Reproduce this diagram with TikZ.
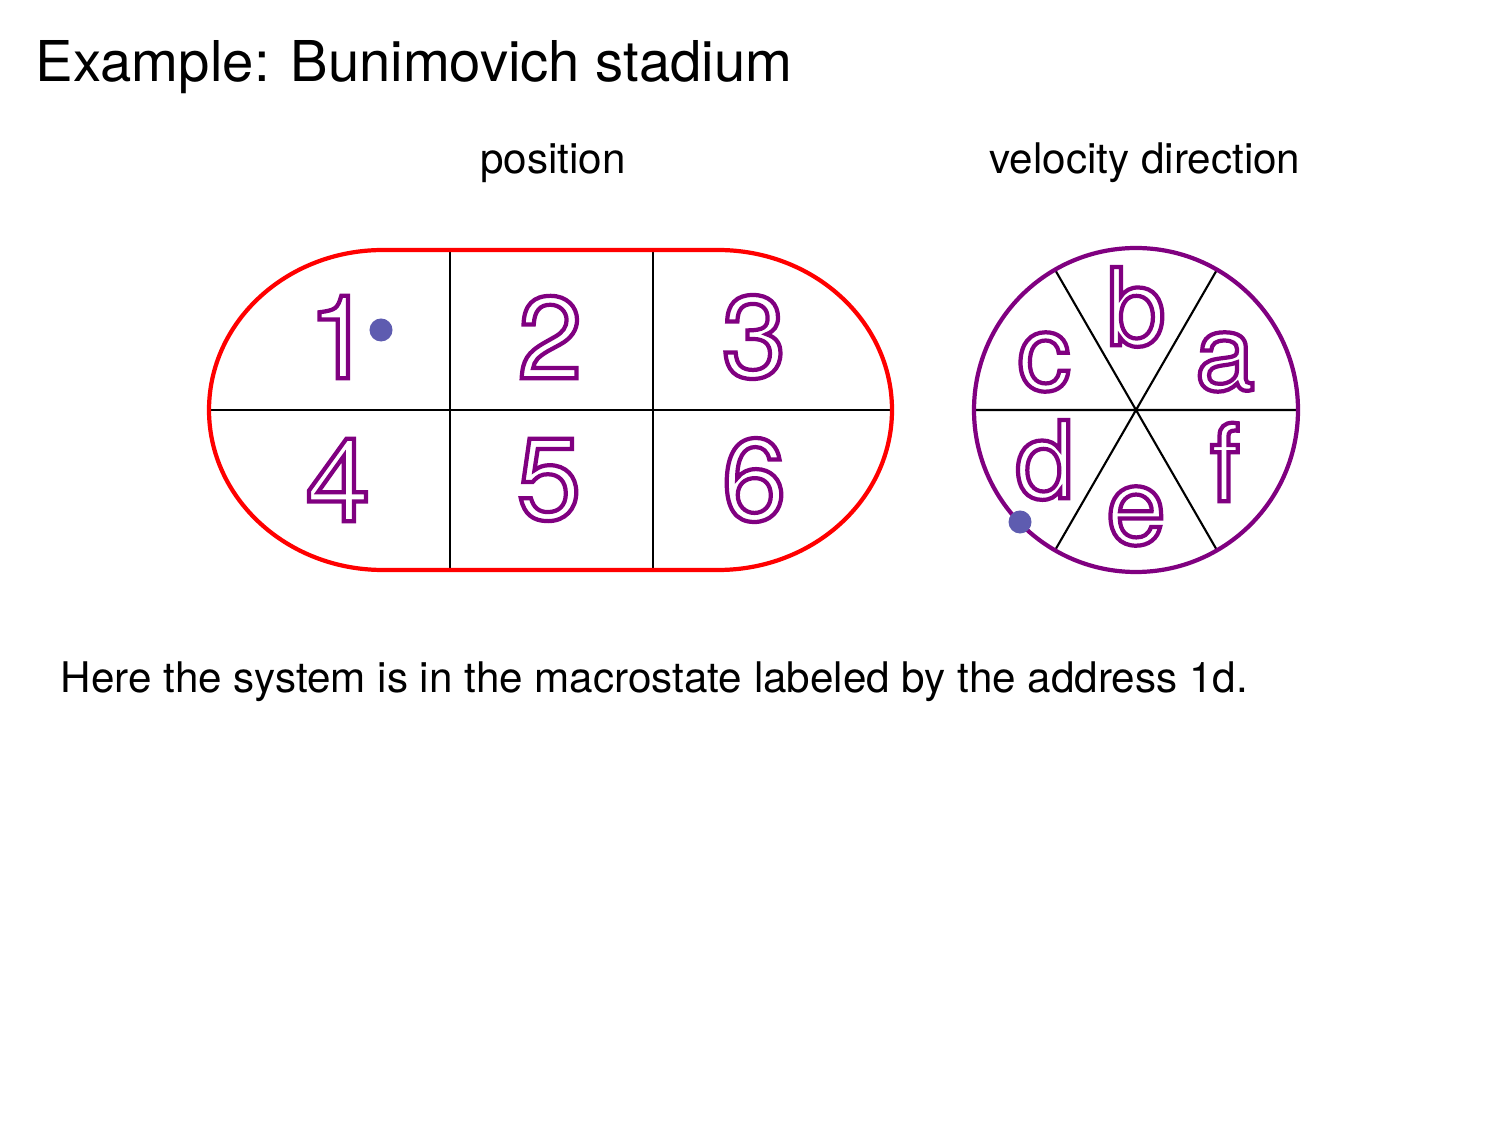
\documentclass[tikz,border=0pt]{standalone}
\usepackage{fontspec}
\setmainfont{TeX Gyre Heros}
\definecolor{wallred}{RGB}{255,0,0}
\definecolor{cellpurple}{RGB}{128,0,128}
\definecolor{dotblue}{RGB}{94,92,176}
% outlined glyphs: stroke only (text render mode 1)
\newcommand{\hollow}[1]{{\color{cellpurple}\special{pdf:literal direct 1 Tr 1.2 w}#1\special{pdf:literal direct 0 Tr}}}

\begin{document}
\begin{tikzpicture}[x=0.01cm,y=-0.01cm,every node/.style={inner sep=0pt},
  cellnum/.style={font=\fontsize{33}{33}\selectfont},
  dirlet/.style={font=\fontsize{30.5}{30.5}\selectfont},
  caption/.style={font=\fontsize{12}{14}\selectfont},
  state/.style={circle,fill=dotblue,minimum size=0.23cm}]
\useasboundingbox (0,0) rectangle (1512,1134);
\node[anchor=base west,font=\fontsize{16}{19}\selectfont] (title) at (35,82) {Example: Bunimovich stadium};
\node[caption,anchor=base] (pos) at (553,174) {position};
\node[caption,anchor=base] (vel) at (1145,174) {velocity direction};
% stadium cells
\draw[line width=0.6pt] (209,410) -- (892,410) (450,250) -- (450,570) (653,250) -- (653,570);
\draw[wallred,line width=1.2pt] (383,250) -- (718,250) arc(-90:90:174 and 160) -- (383,570) arc(90:270:174 and 160) -- cycle;
\node[cellnum] (n1) at (340,337) {\hollow{1}};
\node[cellnum] (n2) at (550,337) {\hollow{2}};
\node[cellnum] (n3) at (754,337) {\hollow{3}};
\node[cellnum] (n4) at (338,480) {\hollow{4}};
\node[cellnum] (n5) at (549,480) {\hollow{5}};
\node[cellnum] (n6) at (754,480) {\hollow{6}};
\node[state] (p) at (381,330) {};
% direction wheel
\coordinate (o) at (1136,410);
\draw[line width=0.6pt] (o) ++(0:162) -- ++(180:324) (o) ++(60:162) -- ++(240:324) (o) ++(120:162) -- ++(300:324);
\draw[cellpurple,line width=1.2pt] (o) circle (162);
\node[dirlet] (a) at (1225,362) {\hollow{a}};
\node[dirlet] (b) at (1136,307) {\hollow{b}};
\node[dirlet] (c) at (1044,362) {\hollow{c}};
\node[dirlet] (d) at (1045,460) {\hollow{d}};
\node[dirlet] (e) at (1136,516) {\hollow{e}};
\node[dirlet] (f) at (1225,462) {\hollow{f}};
\node[state] (v) at (1020,522) {};
\node[caption,anchor=base west] (note) at (60,693) {Here the system is in the macrostate labeled by the address 1d.};
\end{tikzpicture}
\end{document}
